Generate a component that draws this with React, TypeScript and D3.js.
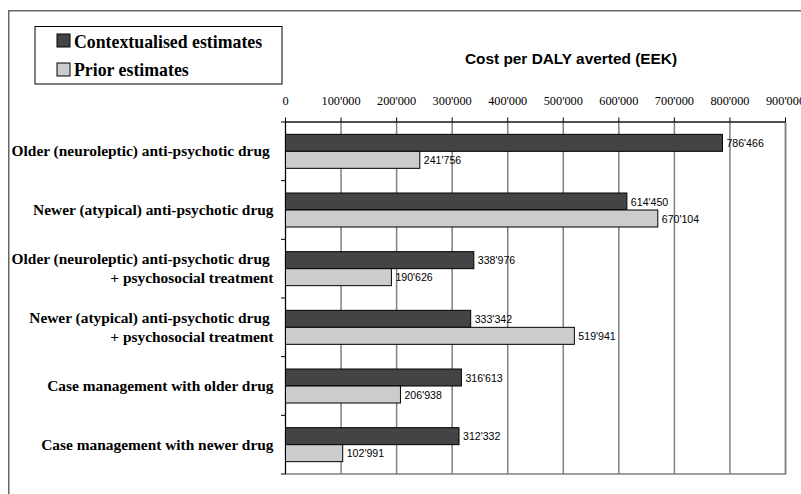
import React from "react";
import * as d3 from "d3";

// Intervention categories (multi-line labels split on "\n")
const categories: string[] = [
  "Older (neuroleptic) anti-psychotic drug ",
  "Newer (atypical) anti-psychotic drug",
  "Older (neuroleptic) anti-psychotic drug \n+ psychosocial treatment",
  "Newer (atypical) anti-psychotic drug \n+ psychosocial treatment",
  "Case management with older drug",
  "Case management with newer drug",
];

const contextualised: number[] = [786466, 614450, 338976, 333342, 316613, 312332];
const prior: number[] = [241756, 670104, 190626, 519941, 206938, 102991];

const tickValues: number[] = [0, 100000, 200000, 300000, 400000, 500000, 600000, 700000, 800000, 900000];

const seriesNames: string[] = ["Contextualised estimates", "Prior estimates"];
const axisTitle = "Cost per DALY averted (EEK)";

const W = 801;
const H = 494;
const plot = { left: 285.5, right: 785.5, top: 122, bottom: 474 };

const DARK = "#444444";
const LIGHT = "#cccccc";
const GRID = "#808080";

const locale = d3.formatLocale({ decimal: ".", thousands: "'", grouping: [3], currency: ["", ""] });
const fmt = locale.format(",d");

export default function App() {
  const x = d3.scaleLinear().domain([0, 900000]).range([plot.left, plot.right]);
  const y = d3
    .scaleBand<number>()
    .domain(categories.map((_, i) => i))
    .range([plot.top, plot.bottom])
    .paddingInner(0)
    .paddingOuter(0);
  const band = y.bandwidth();
  const barH = 17;
  const serif = "'Liberation Serif', 'Times New Roman', serif";
  const sans = "'Liberation Sans', Arial, sans-serif";

  return (
    <svg
      width={W}
      height={H}
      style={{ position: "absolute", left: 0, top: 0, background: "#fff" }}
    >
      {/* outer frame */}
      <rect x={8.75} y={10.75} width={W + 20} height={H + 20} fill="none" stroke="#666" strokeWidth={1.5} />

      {/* legend */}
      <rect x={35} y={26.5} width={247} height={57.5} fill="#fff" stroke="#000" strokeWidth={1} />
      {seriesNames.map((name, i) => (
        <g key={name}>
          <rect
            x={57}
            y={34 + i * 29}
            width={13}
            height={13}
            fill={i === 0 ? DARK : LIGHT}
            stroke="#000"
            strokeWidth={1}
          />
          <text x={74} y={47.5 + i * 28.5} fontFamily={serif} fontWeight="bold" fontSize={17.8} fill="#000">
            {name}
          </text>
        </g>
      ))}

      {/* axis title */}
      <text x={571} y={63.5} textAnchor="middle" fontFamily={sans} fontWeight="bold" fontSize={15.4} fill="#000">
        {axisTitle}
      </text>

      {/* plot area background and border */}
      <rect
        x={plot.left}
        y={plot.top}
        width={plot.right - plot.left}
        height={plot.bottom - plot.top}
        fill="#fff"
        stroke={GRID}
        strokeWidth={1.5}
      />

      {/* vertical gridlines */}
      {tickValues.slice(1).map((t) => (
        <line key={"g" + t} x1={x(t)} x2={x(t)} y1={plot.top} y2={plot.bottom} stroke={GRID} strokeWidth={1.5} />
      ))}

      {/* bars */}
      {categories.map((_, i) => {
        const y0 = (y(i) as number) + (band - 2 * barH) / 2;
        return (
          <g key={"b" + i}>
            <rect
              x={x(0)}
              y={y0}
              width={x(contextualised[i]) - x(0)}
              height={barH}
              fill={DARK}
              stroke="#000"
              strokeWidth={1}
            />
            <rect
              x={x(0)}
              y={y0 + barH}
              width={x(prior[i]) - x(0)}
              height={barH}
              fill={LIGHT}
              stroke="#000"
              strokeWidth={1}
            />
            <text
              x={x(contextualised[i]) + 4}
              y={y0 + barH / 2 + 4}
              fontFamily={sans}
              fontSize={10.6}
              fill="#000"
            >
              {fmt(contextualised[i])}
            </text>
            <text
              x={x(prior[i]) + 4}
              y={y0 + barH * 1.5 + 4}
              fontFamily={sans}
              fontSize={10.6}
              fill="#000"
            >
              {fmt(prior[i])}
            </text>
          </g>
        );
      })}

      {/* top axis */}
      <line x1={plot.left} x2={plot.right} y1={plot.top} y2={plot.top} stroke="#000" strokeWidth={1} />
      {tickValues.map((t) => (
        <g key={"t" + t}>
          <line x1={x(t)} x2={x(t)} y1={plot.top - 4.5} y2={plot.top} stroke="#000" strokeWidth={1} />
          <text x={x(t)} y={104.5} textAnchor="middle" fontFamily={serif} fontSize={12.3} fill="#000">
            {fmt(t)}
          </text>
        </g>
      ))}

      {/* left axis with category ticks */}
      <line x1={plot.left} x2={plot.left} y1={plot.top} y2={plot.bottom} stroke="#000" strokeWidth={1} />
      {d3.range(categories.length + 1).map((k) => {
        const yy = plot.top + k * band;
        return <line key={"c" + k} x1={plot.left - 4.5} x2={plot.left} y1={yy} y2={yy} stroke="#000" strokeWidth={1} />;
      })}

      {/* category labels */}
      {categories.map((c, i) => {
        const lines = c.split("\n");
        const cy = (y(i) as number) + band / 2;
        return (
          <text
            key={"l" + i}
            textAnchor="end"
            fontFamily={serif}
            fontWeight="bold"
            fontSize={15.4}
            fill="#000"
            style={{ whiteSpace: "pre" }}
          >
            {lines.map((ln, j) => (
              <tspan key={j} x={273.5} y={cy + 5 + (j - (lines.length - 1) / 2) * 19}>
                {ln}
              </tspan>
            ))}
          </text>
        );
      })}
    </svg>
  );
}
